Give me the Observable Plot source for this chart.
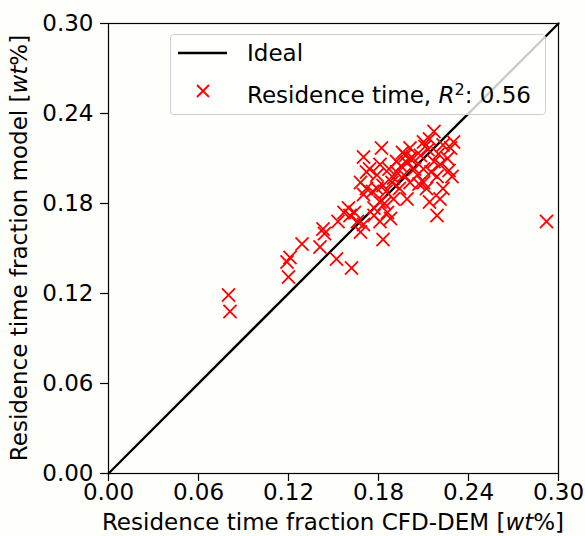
<!DOCTYPE html>
<html>
<head>
<meta charset="utf-8">
<script src="https://cdn.jsdelivr.net/npm/d3@7"></script>
<script src="https://cdn.jsdelivr.net/npm/@observablehq/plot@0.6"></script>
<style>
  html, body { margin: 0; padding: 0; background: #fefefb; }
  #wrap { position: relative; width: 585px; height: 536px; font-family: "DejaVu Sans", sans-serif; }
  #legend {
    position: absolute; left: 170px; top: 34px; width: 374px; height: 79px;
    border: 1px solid #d0d0d0; border-radius: 4px; background: rgba(255,255,255,0.8);
    font-size: 23px; color: #000;
  }
  .row { position: absolute; left: 0; height: 30px; }
  .row svg { position: absolute; left: 6px; top: 0; }
  .row span { position: absolute; left: 76px; top: 1px; white-space: nowrap; line-height: 28px; }
</style>
</head>
<body>
<div id="wrap"></div>
<script>
// Data
const cfdDem = [0.080, 0.081, 0.292, 0.119, 0.121, 0.120, 0.129, 0.141, 0.144, 0.152,
  0.153, 0.162, 0.160, 0.164, 0.168, 0.170, 0.170, 0.182, 0.183, 0.168,
  0.170, 0.174, 0.177, 0.179, 0.181, 0.186, 0.189, 0.190, 0.187, 0.192,
  0.198, 0.199, 0.201, 0.204, 0.210, 0.210, 0.214, 0.217, 0.212, 0.214,
  0.219, 0.221, 0.223, 0.229, 0.228, 0.226, 0.221, 0.230, 0.223, 0.208,
  0.210, 0.217, 0.197, 0.183, 0.179, 0.172, 0.177, 0.181, 0.188, 0.194,
  0.201, 0.207, 0.219, 0.192, 0.181, 0.172, 0.166, 0.161, 0.157, 0.143,
  0.201, 0.196, 0.220, 0.227, 0.185, 0.190, 0.195, 0.203, 0.206, 0.213,
  0.184, 0.176, 0.199, 0.215, 0.211];
const model = [0.119, 0.108, 0.168, 0.141, 0.144, 0.131, 0.153, 0.151, 0.160, 0.143,
  0.168, 0.137, 0.177, 0.174, 0.161, 0.166, 0.211, 0.217, 0.156, 0.194,
  0.186, 0.203, 0.172, 0.190, 0.181, 0.174, 0.194, 0.183, 0.203, 0.208,
  0.212, 0.183, 0.217, 0.203, 0.194, 0.221, 0.223, 0.228, 0.190, 0.181,
  0.172, 0.183, 0.190, 0.198, 0.217, 0.210, 0.206, 0.221, 0.219, 0.212,
  0.203, 0.208, 0.199, 0.192, 0.199, 0.190, 0.177, 0.168, 0.170, 0.190,
  0.194, 0.193, 0.198, 0.201, 0.206, 0.201, 0.168, 0.172, 0.174, 0.163,
  0.210, 0.214, 0.213, 0.202, 0.188, 0.197, 0.205, 0.210, 0.199, 0.216,
  0.180, 0.188, 0.207, 0.201, 0.218];
const idealX = [0, 0.30];
const idealY = [0, 0.30];
const tickValues = [0, 0.06, 0.12, 0.18, 0.24, 0.30];
const xLabel = ["Residence time fraction CFD-DEM [", "wt", "%]"];
const yLabel = ["Residence time fraction model [", "wt", "%]"];
const legendLabels = ["Ideal", "Residence time, ", "R", "2", ": 0.56"];

const points = cfdDem.map((x, i) => ({x, y: model[i]}));
const ideal = idealX.map((x, i) => ({x, y: idealY[i]}));

const W = 585, H = 536, mL = 108, mR = 27, mT = 23, mB = 63;
const FS = 23;

const chart = Plot.plot({
  width: W, height: H,
  marginLeft: mL, marginRight: mR, marginTop: mT, marginBottom: mB,
  style: {fontFamily: "DejaVu Sans, sans-serif", fontSize: FS + "px", color: "#000", background: "transparent", overflow: "visible"},
  x: {domain: [0, 0.30], ticks: tickValues, tickFormat: d3.format(".2f"), label: null},
  y: {domain: [0, 0.30], ticks: tickValues, tickFormat: d3.format(".2f"), label: null},
  marks: [
    Plot.axisX({ticks: tickValues, tickFormat: d3.format(".2f"), tickSize: 8, tickPadding: 2, label: null, fontSize: FS, stroke: "#000", strokeWidth: 1.2}),
    Plot.axisY({ticks: tickValues, tickFormat: d3.format(".2f"), tickSize: 8, tickPadding: 7, label: null, fontSize: FS, stroke: "#000", strokeWidth: 1.2}),
    Plot.line(ideal, {x: "x", y: "y", stroke: "#000", strokeWidth: 2.3}),
    Plot.dot(points, {x: "x", y: "y", symbol: "times", r: 6, stroke: "#ff0000", strokeWidth: 1.8}),
    Plot.frame({stroke: "#000", strokeWidth: 1.2})
  ]
});

const wrap = document.getElementById("wrap");
wrap.appendChild(chart);

const svg = d3.select(chart);
// x axis label
const xt = svg.append("text")
  .attr("x", mL + (W - mL - mR) / 2).attr("y", 530)
  .attr("text-anchor", "middle").attr("font-size", FS).attr("fill", "#000");
xt.append("tspan").text(xLabel[0]);
xt.append("tspan").attr("font-style", "italic").text(xLabel[1]);
xt.append("tspan").text(xLabel[2]);
// y axis label
const yt = svg.append("text")
  .attr("transform", `translate(27,${mT + (H - mT - mB) / 2}) rotate(-90)`)
  .attr("text-anchor", "middle").attr("font-size", FS).attr("fill", "#000");
yt.append("tspan").text(yLabel[0]);
yt.append("tspan").attr("font-style", "italic").text(yLabel[1]);
yt.append("tspan").text(yLabel[2]);

// legend
const lg = document.createElement("div");
lg.id = "legend";
lg.innerHTML = `
  <div class="row" style="top:3px;width:100%">
    <svg width="52" height="30"><line x1="1" y1="15" x2="50" y2="15" stroke="#000" stroke-width="2.3"/></svg>
    <span>${legendLabels[0]}</span>
  </div>
  <div class="row" style="top:40px;width:100%">
    <svg width="52" height="30"><path d="M20,10L32,22M20,22L32,10" stroke="#ff0000" stroke-width="1.8" fill="none"/></svg>
    <span>${legendLabels[1]}<i>${legendLabels[2]}</i><sup style="font-size:16px;vertical-align:8px">${legendLabels[3]}</sup>${legendLabels[4]}</span>
  </div>`;
wrap.appendChild(lg);
</script>
</body>
</html>
